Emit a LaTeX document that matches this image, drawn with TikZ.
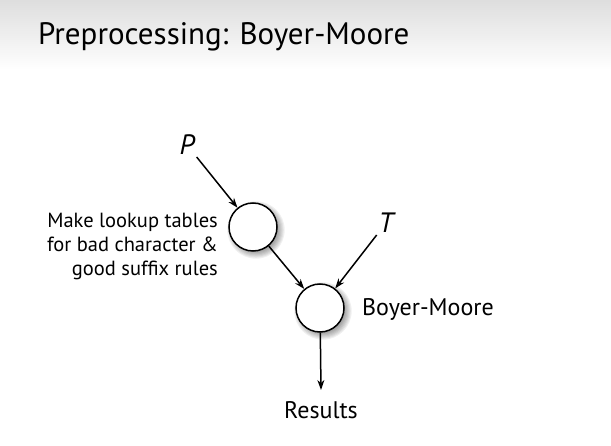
\documentclass[tikz,border=0pt]{standalone}
\usepackage{fontspec}
\setmainfont{PT Sans}
\usetikzlibrary{arrows.meta}
\tikzset{
  proc/.style={circle,draw=black,line width=1.5pt,fill=white,minimum size=48pt,inner sep=0pt},
  arr/.style={line width=1.5pt,-{Stealth[length=10pt,width=7pt]}},
  lbl/.style={font=\fontsize{20.5}{24}\selectfont,inner sep=0pt},
  biglbl/.style={font=\fontsize{24}{28}\selectfont,inner sep=0pt},
  var/.style={font=\fontsize{28}{30}\selectfont\itshape,inner sep=2pt}
}
\newcommand{\softshadow}[1]{%
  \foreach \k in {0,...,7}{
    \fill[black,opacity=0.06] ([shift={(3pt,-3pt)}]#1) circle ({21pt+\k*1.1pt});
  }}
\begin{document}
\begin{tikzpicture}[x=1pt,y=-1pt]
\useasboundingbox (0,0) rectangle (611,446);
\shade[top color=black!13,bottom color=white] (0,0) rectangle (611,70);
\node[anchor=base west,inner sep=0pt,font=\fontsize{31}{36}\selectfont] (title) at (38,45) {Preprocessing: Boyer-Moore};

\softshadow{253,227}
\softshadow{320,308}
\node[proc] (c1) at (253,227) {};
\node[proc] (c2) at (320,308) {};

\node[var] (P) at (187,145) {P};
\node[var] (T) at (386,223) {T};

\node[lbl,anchor=east,align=right] (pre) at (218,246) {Make lookup tables\\for bad character \&\\good suffix rules};
\node[biglbl,anchor=base west] (bm) at (362,316) {Boyer-Moore};
\node[biglbl,anchor=base] (res) at (321,419) {Results};
\coordinate (rt) at (321,390);

\draw[arr] (P) -- (c1);
\draw[arr] (T) -- (c2);
\draw[arr] (c1) -- (c2);
\draw[arr] (c2) -- (rt);
\end{tikzpicture}
\end{document}
